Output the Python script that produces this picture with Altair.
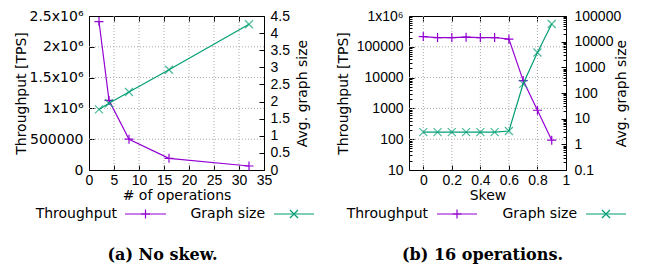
import altair as alt
import pandas as pd

# ---------------- data ----------------
ops = [2, 4, 8, 16, 32]
throughput_a = [2410000, 1130000, 500000, 190000, 65000]
graphsize_a = [1.77, 1.95, 2.28, 2.93, 4.26]

skew = [0.0, 0.1, 0.2, 0.3, 0.4, 0.5, 0.6, 0.7, 0.8, 0.9]
throughput_b = [215000, 200000, 200000, 205000, 200000, 200000, 177000, 8000, 870, 93]
graphsize_b = [3.0, 3.0, 3.0, 3.0, 3.0, 3.0, 3.3, 228, 3800, 49000]

series_names = ["Throughput", "Graph size"]
captions = ["(a) No skew.", "(b) 16 operations."]
x_titles = ["# of operations", "Skew"]
y_title_left = "Throughput [TPS]"
y_title_right = "Avg. graph size"

xticks_a = [0, 5, 10, 15, 20, 25, 30, 35]
yticks_a = [0, 500000, 1000000, 1500000, 2000000, 2500000]
y2ticks_a = [0, 0.5, 1, 1.5, 2, 2.5, 3, 3.5, 4, 4.5]
gridx_a = [5, 10, 15, 20, 25, 30]
gridy_a = [500000, 1000000, 1500000, 2000000]

xticks_b = [0, 0.2, 0.4, 0.6, 0.8, 1.0]
yticks_b = [10, 100, 1000, 10000, 100000, 1000000]
y2ticks_b = [0.1, 1, 10, 100, 1000, 10000, 100000]
gridx_b = [0, 0.2, 0.4, 0.6, 0.8]
gridy_b = [100, 1000, 10000, 100000]
minor_y_b = [m * 10 ** k for k in range(1, 6) for m in range(2, 10)]
minor_y2_b = [round(m * 10.0 ** k, 6) for k in range(-1, 5) for m in range(2, 10)]

# ---------------- style ----------------
FONT = "DejaVu Sans"
TFONT = "Liberation Sans"
PURPLE = "#9400D3"
GREEN = "#009E73"
PLUS = "M-1,0L1,0M0,-1L0,1"
CROSS = "M-1,-1L1,1M-1,1L1,-1"
TICK = 5
MINOR = 3
GRID_COLOR = "#a8a8a8"


def ax(**kw):
    d = dict(labelFont=TFONT, labelFontSize=14, labelColor="black",
             titleFont=FONT, titleFontSize=14, titleFontWeight="normal",
             titleColor="black", domain=False, ticks=True, tickColor="black",
             tickSize=TICK, offset=-TICK, grid=False, labelFlush=False,
             labelOverlap=False)
    d.update(kw)
    return alt.Axis(**d)


def panel(df, xfield, xscale, xticks, xfmt, xtitle, yscale, yticks, ylabel_expr, yfont,
          ytpad, y2scale, y2ticks, y2pad, y2tpad, gridx, gridy, minor_y, minor_y2,
          legend_x, cap, w, h):
    gv = alt.Chart(pd.DataFrame({xfield: gridx})).mark_rule(
        color=GRID_COLOR, strokeDash=[1, 2], strokeWidth=1
    ).encode(
        x=alt.X(f"{xfield}:Q", scale=xscale,
                axis=ax(orient="bottom", values=xticks, format=xfmt, title=xtitle,
                        labelPadding=3, titlePadding=1))
    )
    gh = alt.Chart(pd.DataFrame({"tput": gridy})).mark_rule(
        color=GRID_COLOR, strokeDash=[1, 2], strokeWidth=1
    ).encode(
        y=alt.Y("tput:Q", scale=yscale,
                axis=ax(orient="left", values=yticks, labelExpr=ylabel_expr,
                        labelFont=yfont,
                        title=y_title_left, labelPadding=6, titlePadding=ytpad))
    )
    if minor_y:
        tp_yaxis = ax(orient="left", values=minor_y, labels=False, title=None,
                      tickSize=MINOR, offset=-MINOR)
    else:
        tp_yaxis = None
    tp = alt.Chart(df).mark_line(
        color=PURPLE, strokeWidth=1.2,
        point=alt.OverlayMarkDef(shape=PLUS, filled=False, size=81,
                                 strokeWidth=1.2, color=PURPLE)
    ).encode(
        x=alt.X(f"{xfield}:Q", scale=xscale,
                axis=ax(orient="top", values=xticks, labels=False, title=None)),
        y=alt.Y("tput:Q", scale=yscale, axis=tp_yaxis),
    )
    gl = alt.Chart(df).mark_line(color=GREEN, strokeWidth=1.2).encode(
        x=alt.X(f"{xfield}:Q", scale=xscale, axis=None),
        y=alt.Y("gsize:Q", scale=y2scale,
                axis=ax(orient="right", values=y2ticks, format="~g",
                        title=y_title_right, titleAngle=-90, titleBaseline="top",
                        labelPadding=y2pad, titlePadding=y2tpad)),
    )
    if minor_y2:
        gp_yaxis = ax(orient="right", values=minor_y2, labels=False, title=None,
                      tickSize=MINOR, offset=-MINOR)
    else:
        gp_yaxis = None
    gp = alt.Chart(df).mark_point(shape=CROSS, filled=False, size=64,
                                  strokeWidth=1.2, color=GREEN).encode(
        x=alt.X(f"{xfield}:Q", scale=xscale, axis=None),
        y=alt.Y("gsize:Q", scale=y2scale, axis=gp_yaxis),
    )

    # legend (gnuplot style: label, then line sample with marker)
    ly = 198
    (t1, a1, b1, t2, a2, b2) = legend_x
    leg = []
    for name, tx, x1, x2, col, shp, sz in [
        (series_names[0], t1, a1, b1, PURPLE, PLUS, 81),
        (series_names[1], t2, a2, b2, GREEN, CROSS, 64),
    ]:
        d1 = pd.DataFrame({"label": [name]})
        leg.append(alt.Chart(d1).mark_text(align="right", baseline="middle",
                                           font=FONT, fontSize=14, color="black")
                   .encode(x=alt.value(tx), y=alt.value(ly), text="label:N"))
        leg.append(alt.Chart(d1).mark_rule(color=col, strokeWidth=1.2)
                   .encode(x=alt.value(x1), x2=alt.value(x2), y=alt.value(ly)))
        leg.append(alt.Chart(d1).mark_point(shape=shp, filled=False, size=sz,
                                            strokeWidth=1.2, color=col, opacity=1)
                   .encode(x=alt.value((x1 + x2) / 2), y=alt.value(ly)))
    capc = alt.Chart(pd.DataFrame({"cap": [cap]})).mark_text(
        align="center", baseline="middle", font="DejaVu Serif",
        fontWeight="bold", fontSize=16, color="black"
    ).encode(x=alt.value(73.5), y=alt.value(239), text="cap:N")

    return alt.layer(gv, gh, tp, gl, gp, *leg, capc).resolve_scale(
        y="independent"
    ).resolve_axis(x="independent", y="independent").properties(width=w, height=h)


df_a = pd.DataFrame({"x": ops, "tput": throughput_a, "gsize": graphsize_a})
df_b = pd.DataFrame({"x": skew, "tput": throughput_b, "gsize": graphsize_b})

H = 154
left = panel(
    df_a, "x", alt.Scale(domain=[0, 35], nice=False, zero=False), xticks_a, "~g",
    x_titles[0],
    alt.Scale(domain=[0, 2500000], nice=False), yticks_a,
    "datum.value >= 1000000 ? (datum.value / 1000000) + 'x10\u2076' : format(datum.value, 'd')",
    FONT, 1,
    alt.Scale(domain=[0, 4.5], nice=False), y2ticks_a, 6, 6,
    gridx_a, gridy_a, None, None,
    (28, 36, 77, 176, 185, 225), captions[0], 175, H,
)
right = panel(
    df_b, "x", alt.Scale(domain=[-0.1, 1.0], nice=False, zero=False), xticks_b, "~g",
    x_titles[1],
    alt.Scale(type="log", domain=[10, 1000000], nice=False), yticks_b,
    "datum.value >= 1000000 ? '1x10\u2076' : format(datum.value, 'd')",
    TFONT, 6,
    alt.Scale(type="log", domain=[0.1, 100000], nice=False), y2ticks_b, 8, -6,
    gridx_b, gridy_b, minor_y_b, minor_y2_b,
    (19, 28, 68, 168, 177, 217), captions[1], 157, H,
)

chart = alt.hconcat(left, right, spacing=145, bounds="flush").properties(
    padding={"left": 5, "top": 0, "right": 0, "bottom": 0},
    background="white",
).configure_view(stroke="black", strokeWidth=1)

chart.save("out.html", embed_options={"renderer": "svg", "actions": False})
